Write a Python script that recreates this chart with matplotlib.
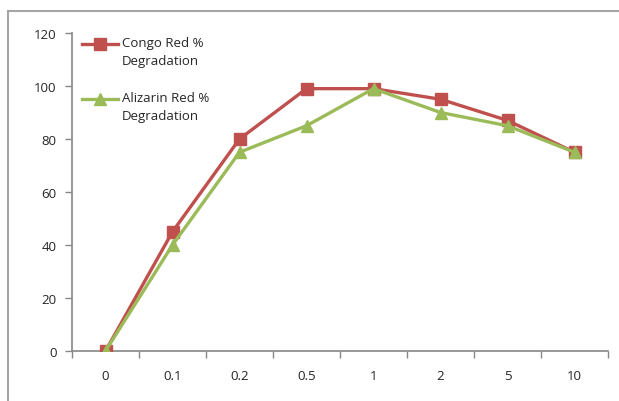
import matplotlib.pyplot as plt
from matplotlib.lines import Line2D
import numpy as np

categories = ['0', '0.1', '0.2', '0.5', '1', '2', '5', '10']
congo = [0, 45, 80, 99, 99, 95, 87, 75]
alizarin = [0, 40, 75, 85, 99, 90, 85, 75]
series_names = ['Congo Red %', 'Alizarin Red %']

red = '#C0504D'
green = '#9BBB59'
axis_gray = '#868686'
text_col = '#262626'

plt.rcParams['font.family'] = ['Open Sans', 'DejaVu Sans']

fig = plt.figure(figsize=(6.19, 4.02), dpi=100)
ax = fig.add_axes([72/619, 50/402, 536/619, 318/402])

x = np.arange(len(categories))
ax.plot(x, congo, color=red, lw=2.4, marker='s', ms=8.5, zorder=3)
ax.plot(x, alizarin, color=green, lw=2.4, marker='^', ms=9, zorder=4)

ax.set_xlim(-0.5, len(categories) - 0.5)
ax.set_ylim(0, 120)
ax.set_yticks(range(0, 121, 20))
ax.set_xticks(x)
ax.set_xticklabels(categories)
ax.set_xticks(np.arange(-0.5, len(categories)), minor=True)
ax.tick_params(axis='x', which='major', length=0, pad=13, labelsize=9.5, labelcolor=text_col)
ax.tick_params(axis='x', which='minor', length=5, color=axis_gray, width=1)
ax.tick_params(axis='y', length=5, color=axis_gray, width=1, pad=6, labelsize=9.5, labelcolor=text_col)

for s in ['top', 'right']:
    ax.spines[s].set_visible(False)
for s in ['left', 'bottom']:
    ax.spines[s].set_color(axis_gray)
    ax.spines[s].set_linewidth(1.2)

# legend drawn by hand: handle sits on the first text line
leg_items = [(series_names[0], red, 's', 8, 0.965),
             (series_names[1], green, '^', 8.5, 0.792)]
for name, col, mk, ms, yy in leg_items:
    ax.plot([0.019, 0.086], [yy, yy], transform=ax.transAxes, color=col, lw=2.4,
            clip_on=False, zorder=5)
    ax.plot([0.0525], [yy], transform=ax.transAxes, color=col, marker=mk, ms=ms,
            clip_on=False, zorder=5)
    ax.text(0.093, yy + 0.027, name + '\nDegradation', transform=ax.transAxes,
            fontsize=9.5, color=text_col, va='top', ha='left', linespacing=1.55)

# outer chart border (left and top visible)
bx = 8/619
by = 1 - 12/402
fig.add_artist(Line2D([bx, bx], [0, by], transform=fig.transFigure, color='#a6a6a6', lw=1.5))
fig.add_artist(Line2D([bx, 1], [by, by], transform=fig.transFigure, color='#a6a6a6', lw=1.5))

fig.savefig('out.png', dpi=100)
